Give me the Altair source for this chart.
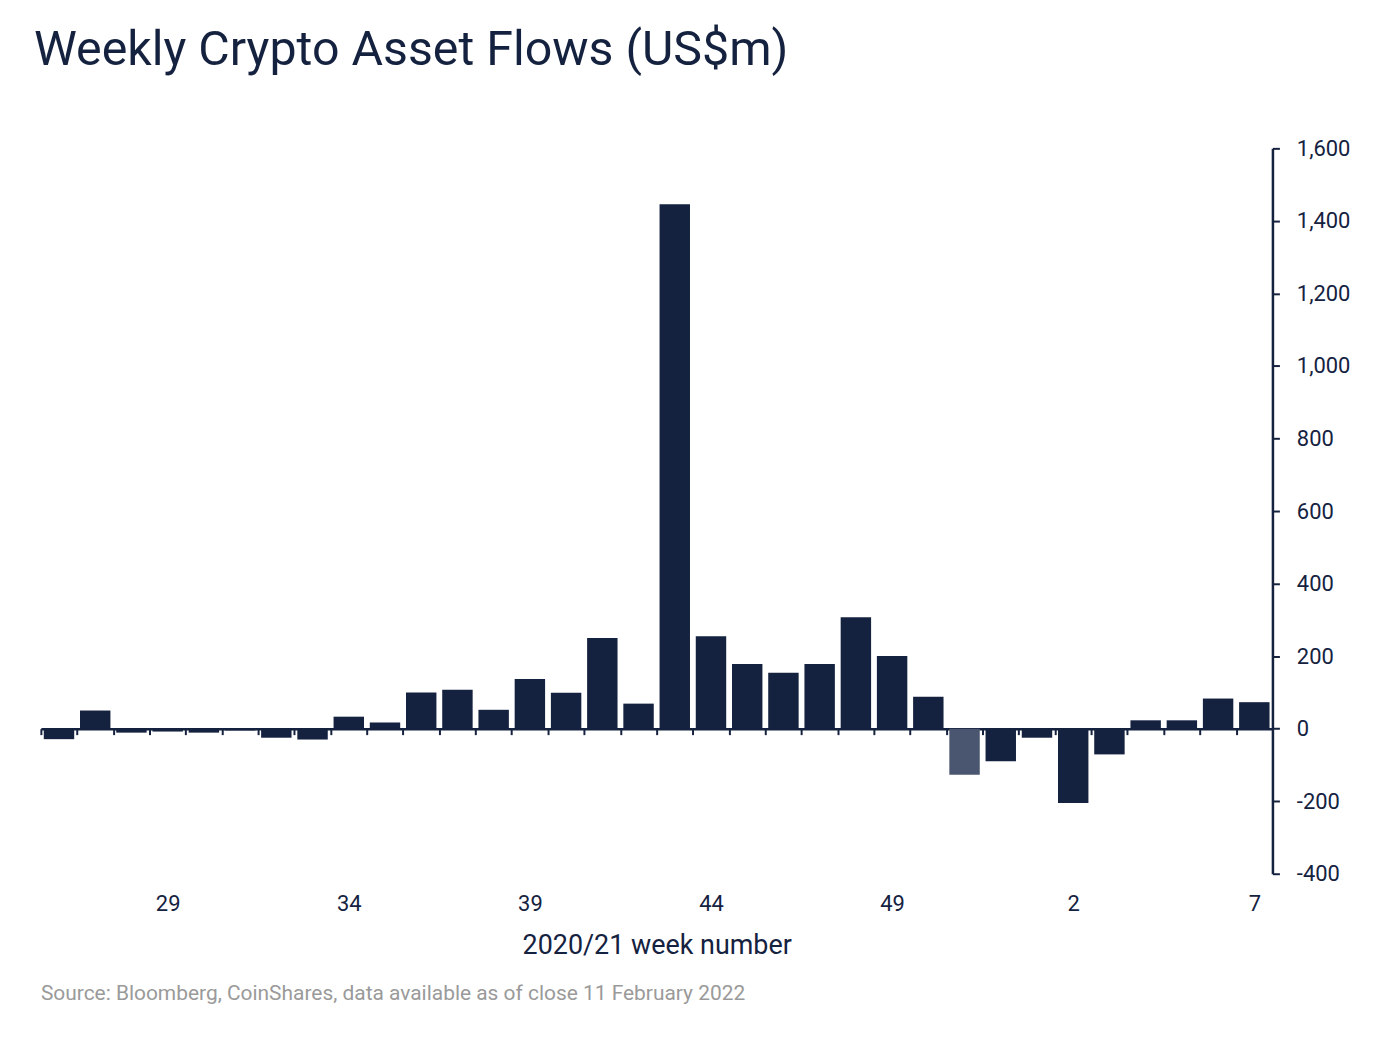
import pandas as pd
import altair as alt

weeks = ["26", "27", "28", "29", "30", "31", "32", "33", "34", "35",
         "36", "37", "38", "39", "40", "41", "42", "43", "44", "45",
         "46", "47", "48", "49", "50", "51", "52", "1", "2", "3",
         "4", "5", "6", "7"]
flows = [-29, 50, -11, -8, -11, -5, -25, -30, 33, 17,
         100, 107, 52, 137, 99, 250, 69, 1446, 255, 178,
         154, 178, 307, 200, 88, -127, -90, -25, -205, -71,
         23, 23, 83, 73]
highlight = ["51"]
shown_labels = ["29", "34", "39", "44", "49", "2", "7"]
source = "Source: Bloomberg, CoinShares, data available as of close 11 February 2022"

navy = "#15223f"
font = "Roboto"

df = pd.DataFrame({"week": weeks, "flow": flows})
df["kind"] = ["light" if w in highlight else "dark" for w in weeks]

label_list = "[" + ",".join(f"'{w}'" for w in shown_labels) + "]"

bars = (
    alt.Chart(df)
    .mark_bar()
    .encode(
        x=alt.X("week:N", sort=weeks, title="2020/21 week number",
                scale=alt.Scale(paddingInner=0.16, paddingOuter=0.08),
                axis=alt.Axis(orient="bottom", offset=-145.6, bandPosition=0,
                              labelOffset=3, tickOffset=-3,
                              labelExpr=f"indexof({label_list}, datum.value) >= 0 ? datum.value : ''",
                              labelAngle=0, labelPadding=160, labelFontSize=22,
                              labelColor=navy, labelFont=font,
                              domainColor=navy, domainWidth=2.5, tickColor=navy,
                              tickWidth=2, tickSize=6,
                              titleFontSize=27, titleFont=font, titleFontWeight="normal",
                              titleColor=navy, titlePadding=18)),
        y=alt.Y("flow:Q", title=None,
                scale=alt.Scale(domain=[-400, 1600], nice=False),
                axis=alt.Axis(orient="right", values=list(range(-400, 1601, 200)),
                              labelExpr="replace(format(datum.value, ','), '\u2212', '-')",
                              grid=False, domainColor=navy, domainWidth=2.5,
                              tickColor=navy, tickWidth=2, tickSize=7,
                              labelPadding=17, labelFontSize=22, labelFont=font,
                              labelColor=navy)),
        color=alt.Color("kind:N", legend=None,
                        scale=alt.Scale(domain=["dark", "light"], range=[navy, "#4a5670"])),
    )
)

note = (
    alt.Chart(pd.DataFrame({"t": [source]}))
    .mark_text(align="left", baseline="middle", fontSize=21, font=font, color="#9a9a9a")
    .encode(x=alt.value(0), y=alt.value(849), text="t:N")
)

chart = (
    alt.layer(bars, note)
    .properties(
        width=1236, height=728,
        autosize=alt.AutoSizeParams(type="none"),
        padding={"left": 33, "top": 139, "right": 120, "bottom": 160},
        title=alt.TitleParams("Weekly Crypto Asset Flows (US$m)", anchor="start", frame="group",
                              fontSize=48.5, font=font, fontWeight="normal", color=navy,
                              offset=62, dx=-7),
    )
    .configure_view(stroke=None)
)

chart.save("out.html", embed_options={"renderer": "svg", "actions": False})
